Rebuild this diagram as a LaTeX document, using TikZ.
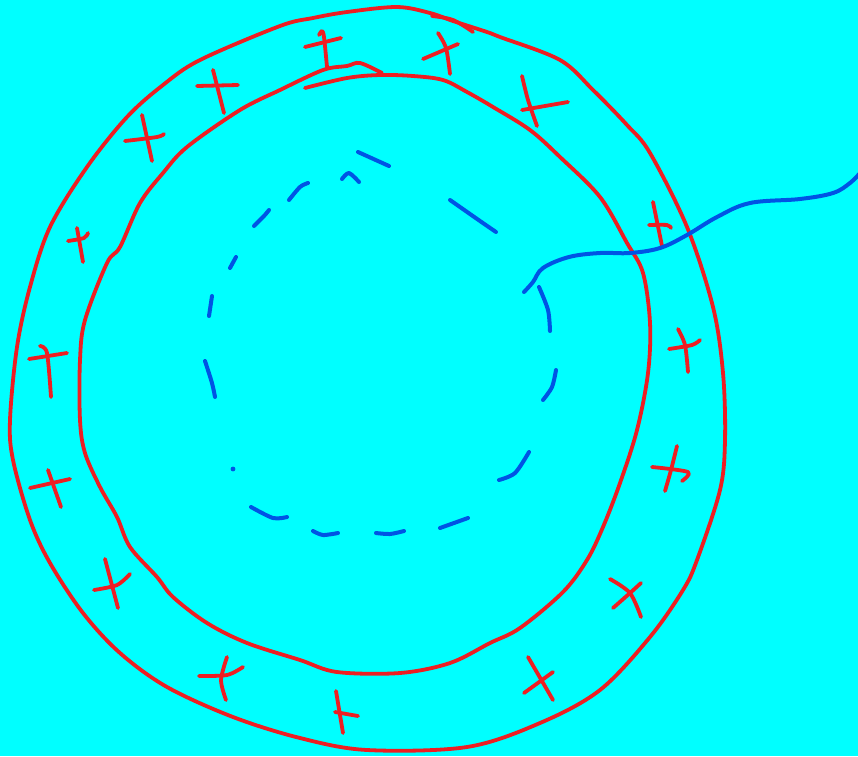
\documentclass[tikz,border=0pt]{standalone}
\usetikzlibrary{positioning}
\definecolor{bgcyan}{RGB}{0,255,255}
\definecolor{penred}{RGB}{238,30,34}
\definecolor{penblue}{RGB}{0,84,228}
\begin{document}
\begin{tikzpicture}[x=1pt, y=-1pt,
                    redline/.style={penred, line width=3.8pt, line cap=round, line join=round},
                    blueline/.style={penblue, line width=4pt, line cap=round, line join=round}]
  % fonas
  \useasboundingbox (0,0) rectangle (858,756);
  \fill[bgcyan] (0,0) rectangle (858,756);
  % išorinis žiedas
  \draw[redline] plot[smooth cycle, tension=0.55] coordinates {
    (10,420) (17,347) (30,287) (50,227) (87,167) (127,117) (163,85) (200,60)
    (280,26) (313,18) (347,12) (397,7) (430,13) (453,21) (487,32) (500,37)
    (560,60) (593,90) (627,125) (650,153) (687,227) (713,307) (723,373)
    (725,440) (720,490) (697,560) (683,590) (650,637) (600,690) (540,723)
    (467,747) (367,750) (300,738) (233,717) (167,687) (120,653) (83,613)
    (50,563) (30,520) (13,460)};
  \draw[redline] plot[smooth, tension=0.6] coordinates {(432,16) (453,20) (473,32)};
  % vidinis žiedas
  \draw[redline] plot[smooth, tension=0.55] coordinates {
    (305,88) (347,78) (380,75) (413,76) (443,80) (467,92) (493,107) (530,130)
    (560,157) (600,197) (627,243) (643,273) (650,323) (648,373) (637,430)
    (620,483) (603,527) (587,560) (563,592) (520,628) (490,643) (450,663)
    (400,673) (337,672) (300,660) (247,643) (207,623) (173,597) (157,577)
    (130,547) (117,517) (100,487) (85,453) (80,420) (80,360) (85,320)
    (107,263) (120,247) (140,203) (163,173) (187,147) (240,110) (280,90)
    (323,70) (347,66) (360,63) (382,73)};
  % kryžiukai
  \draw[redline] plot[smooth] coordinates {(319,35) (322,31) (324,37) (327,67)};
  \draw[redline] (305,47) -- (341,38);
  \draw[redline] plot[smooth] coordinates {(438,33) (446,48) (450,74)};
  \draw[redline] (423,59) -- (458,44);
  \draw[redline] (213,70) -- (224,113);
  \draw[redline] (197,86) -- (238,85);
  \draw[redline] plot[smooth] coordinates {(522,76) (528,100) (537,126)};
  \draw[redline] (522,110) -- (568,102);
  \draw[redline] (142,115) -- (152,161);
  \draw[redline] plot[smooth] coordinates {(125,141) (157,137) (164,134)};
  \draw[redline] (77,228) -- (83,262);
  \draw[redline] plot[smooth] coordinates {(68,241) (84,238) (88,233)};
  \draw[redline] (653,202) -- (662,246);
  \draw[redline] plot[smooth] coordinates {(649,225) (667,225) (671,228)};
  \draw[redline] plot[smooth] coordinates {(40,346) (47,353) (51,397)};
  \draw[redline] (29,359) -- (67,353);
  \draw[redline] plot[smooth] coordinates {(678,329) (685,345) (688,372)};
  \draw[redline] plot[smooth] coordinates {(669,349) (692,345) (700,340)};
  \draw[redline] (48,470) -- (61,507);
  \draw[redline] (30,488) -- (70,479);
  \draw[redline] plot[smooth] coordinates {(677,446) (671,470) (665,491)};
  \draw[redline] plot[smooth] coordinates {(652,467) (688,472) (682,481)};
  \draw[redline] (105,559) -- (118,608);
  \draw[redline] plot[smooth] coordinates {(94,590) (117,585) (130,574)};
  \draw[redline] plot[smooth] coordinates {(610,579) (630,593) (641,617)};
  \draw[redline] plot[smooth] coordinates {(613,608) (630,593) (641,583)};
  \draw[redline] plot[smooth] coordinates {(227,657) (221,680) (226,700)};
  \draw[redline] plot[smooth] coordinates {(199,676) (227,675) (243,667)};
  \draw[redline] (528,657) -- (553,700);
  \draw[redline] (524,693) -- (553,672);
  \draw[redline] (336,691) -- (343,733);
  \draw[redline] (335,712) -- (358,716);
  % brūkšninis apskritimas
  \draw[blueline] (358,152) -- (389,166);
  \draw[blueline] plot[smooth] coordinates {(342,179) (349,173) (359,182)};
  \draw[blueline] plot[smooth] coordinates {(289,200) (300,187) (308,183)};
  \draw[blueline] plot[smooth] coordinates {(254,226) (264,216) (269,210)};
  \draw[blueline] (230,268) -- (236,257);
  \draw[blueline] (209,316) -- (212,296);
  \draw[blueline] plot[smooth] coordinates {(205,361) (212,383) (215,397)};
  \fill[penblue] (233,469) circle (2.4pt);
  \draw[blueline] plot[smooth] coordinates {(251,507) (273,518) (287,517)};
  \draw[blueline] plot[smooth] coordinates {(313,531) (323,535) (338,533)};
  \draw[blueline] plot[smooth] coordinates {(376,533) (390,534) (404,531)};
  \draw[blueline] (440,528) -- (468,518);
  \draw[blueline] plot[smooth] coordinates {(499,480) (515,473) (529,452)};
  \draw[blueline] plot[smooth] coordinates {(543,400) (552,387) (556,370)};
  \draw[blueline] plot[smooth] coordinates {(539,287) (548,310) (550,331)};
  \draw[blueline] plot[smooth] coordinates {(450,200) (480,221) (496,232)};
  % išeinanti linija
  \draw[blueline] plot[smooth, tension=0.6] coordinates {
    (524,292) (533,282) (543,268) (569,257) (600,253) (630,253) (660,248)
    (687,235) (717,217) (750,203) (800,199) (833,193) (850,183) (860,173)};
\end{tikzpicture}
\end{document}
